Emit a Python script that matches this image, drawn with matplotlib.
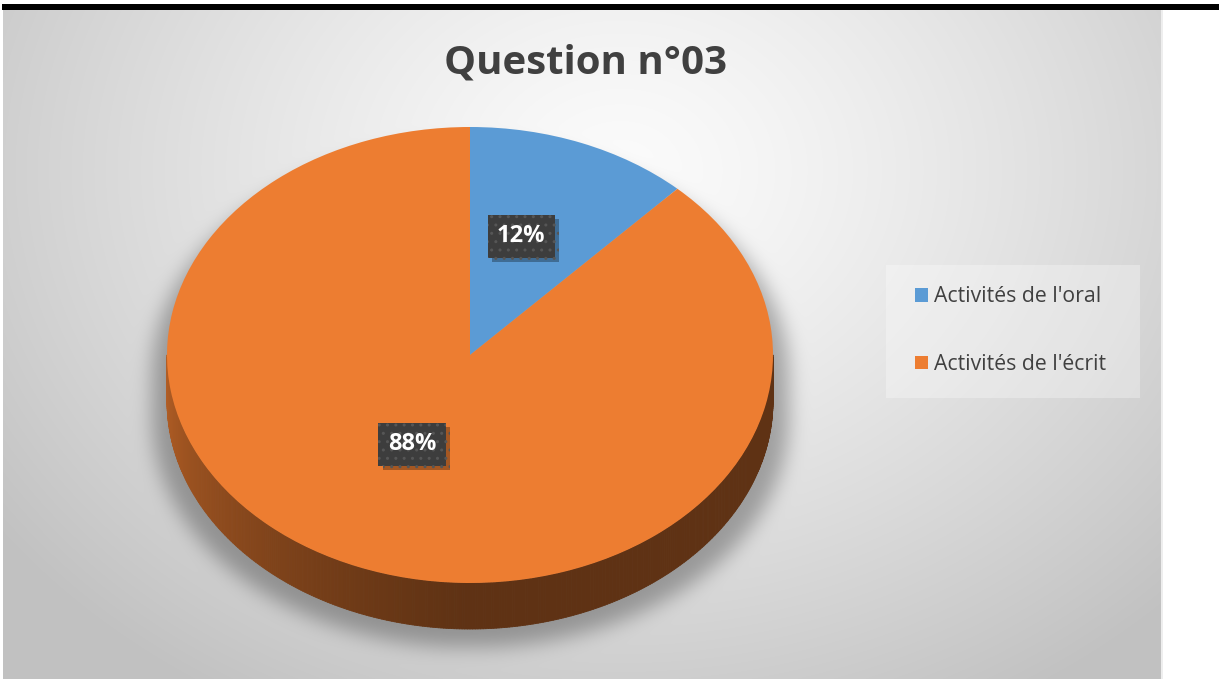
import numpy as np
import matplotlib
matplotlib.use("Agg")
import matplotlib.pyplot as plt
from matplotlib.patches import Wedge, Rectangle, Patch
from matplotlib.collections import PolyCollection
from matplotlib.transforms import Affine2D
import matplotlib.colors as mcolors
import matplotlib.patheffects as pe

# ---- data ----
title = "Question n°03"
categories = ["Activités de l'oral", "Activités de l'écrit"]
shares = [12, 88]
slice_colors = ["#5b9bd5", "#ed7d31"]
value_labels = ["12%", "88%"]

W, H = 1219, 679
fig = plt.figure(figsize=(W / 100, H / 100), dpi=100)
ax = fig.add_axes([0, 0, 1, 1])
ax.set_xlim(0, W)
ax.set_ylim(H, 0)
ax.axis("off")

# ---- pie geometry (pixel space) ----
cx, cy = 470.0, 355.0
rx, ry = 303.0, 228.0
depth = 46.0


def box_blur(a, r, axis):
    c = np.cumsum(np.pad(a, [(r + 1, r) if i == axis else (0, 0) for i in range(a.ndim)], mode="edge"), axis=axis)
    n = a.shape[axis]
    hi = np.take(c, np.arange(2 * r + 1, 2 * r + 1 + n), axis=axis)
    lo = np.take(c, np.arange(0, n), axis=axis)
    return (hi - lo) / (2 * r + 1)


def blur(a, r):
    for _ in range(3):
        a = box_blur(a, r, 0)
        a = box_blur(a, r, 1)
    return a


# ---- background panel with radial gradient and soft shadow ----
yy, xx = np.mgrid[0:H, 0:W].astype(float)
d = np.sqrt(((xx - 620) / 700.0) ** 2 + ((yy - 170) / 560.0) ** 2)
bg = np.clip(0.985 - 0.2 * d ** 1.3, 0.76, 1.0)

sx, sy = rx * 1.05, ry * 1.0
off = 18
sil = ((((xx - cx) / sx) ** 2 + ((yy - cy - off) / sy) ** 2) <= 1) | \
      ((((xx - cx) / sx) ** 2 + ((yy - cy - off - depth) / sy) ** 2) <= 1) | \
      ((np.abs(xx - cx) <= sx) & (yy >= cy + off) & (yy <= cy + off + depth))
shadow = blur(sil.astype(float), 9)
bg = bg * (1 - 0.30 * shadow)

img = np.ones((H, W, 3))
panel = (xx >= 3) & (xx <= 1162) & (yy >= 9)
img[panel] = np.repeat(bg[panel][:, None], 3, axis=1)
ax.imshow(img, extent=(0, W, H, 0), interpolation="bilinear", zorder=0)
ax.add_patch(Rectangle((1161, 9), 1.5, H - 9, fc="#eeeeee", ec="none", zorder=1))
ax.add_patch(Rectangle((2, 3.5), W, 6, fc="black", ec="none", zorder=5))

# ---- pie ----
fracs = np.array(shares, dtype=float) / np.sum(shares)
bounds = np.concatenate([[0], np.cumsum(fracs)])
start_angles = 90 - bounds[:-1] * 360
end_angles = 90 - bounds[1:] * 360


def slice_at(theta):
    # fraction of the way round (clockwise from 12 o'clock)
    f = ((90 - theta) % 360) / 360.0
    return int(np.searchsorted(bounds, f, side="right") - 1)


# side wall, lower half of the ellipse
ts = np.linspace(180, 360, 361)
polys, cols = [], []
for t0, t1 in zip(ts[:-1], ts[1:]):
    a0, a1 = np.radians(t0), np.radians(t1)
    x0, y0 = cx + rx * np.cos(a0), cy - ry * np.sin(a0)
    x1, y1 = cx + rx * np.cos(a1), cy - ry * np.sin(a1)
    polys.append([(x0, y0), (x1, y1), (x1, y1 + depth), (x0, y0 + depth)])
    tm = 0.5 * (t0 + t1)
    k = 0.40 + 0.36 * max(0.0, (270 - tm) / 90.0) ** 1.2
    base = np.array(mcolors.to_rgb(slice_colors[slice_at(tm)]))
    cols.append(base * k)
ax.add_collection(PolyCollection(polys, facecolors=cols, edgecolors=cols, linewidths=0.6, zorder=3))

# top surface
tr = Affine2D().scale(rx, -ry).translate(cx, cy) + ax.transData
for i, c in enumerate(slice_colors):
    w = Wedge((0, 0), 1.0, end_angles[i], start_angles[i], fc=c, ec="none", zorder=4)
    w.set_transform(tr)
    ax.add_patch(w)

# value labels in dark boxes with a drop shadow
label_r = [0.46, 0.52]
for i, lab in enumerate(value_labels):
    mid = np.radians(0.5 * (start_angles[i] + end_angles[i]))
    lx = cx + rx * label_r[i] * np.cos(mid)
    ly = cy - 21 - ry * label_r[i] * np.sin(mid)
    t = ax.text(lx, ly, lab, fontsize=17, fontweight="bold", color="white",
                family="Open Sans", ha="center", va="center", zorder=7,
                bbox=dict(boxstyle="square,pad=0.4", fc="#3d3d3d", ec="#565656", lw=0, hatch=".."))
    t.get_bbox_patch().set_path_effects([
        pe.SimplePatchShadow(offset=(3, -3), shadow_rgbFace="black", alpha=0.3),
        pe.Normal()])

# title
ax.text(585, 63, title, fontsize=29, fontweight="bold", color="#404040",
        family="Open Sans", ha="center", va="center", zorder=6)

# legend
ax.add_patch(Rectangle((886, 265), 254, 133, fc=(1, 1, 1, 0.3), ec="none", zorder=6))
handles = [Patch(fc=c, ec="none") for c in slice_colors]
leg = ax.legend(handles, categories, loc="center left",
                bbox_to_anchor=(915 / W, 1 - 330.5 / H), bbox_transform=fig.transFigure,
                prop={"family": "Open Sans", "size": 15.3}, labelcolor="#404040",
                frameon=False, borderpad=0, labelspacing=2.2,
                handlelength=0.62, handleheight=0.62, handletextpad=0.28,
                borderaxespad=0)
leg.set_zorder(8)

fig.savefig("out.png", dpi=100)
